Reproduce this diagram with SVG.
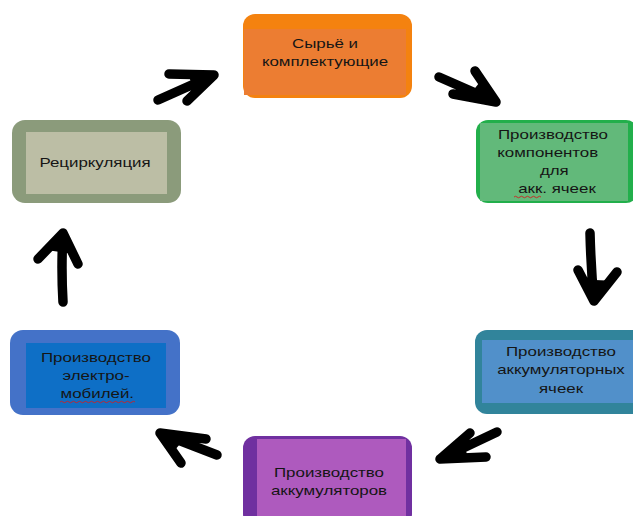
<svg xmlns="http://www.w3.org/2000/svg" width="633" height="516" viewBox="0 0 633 516">
<defs>
<style>
.t{font-family:"Liberation Sans","Open Sans",Arial,sans-serif;font-size:12.8px;fill:#151515;text-anchor:middle}
.arr{fill:none;stroke:#000;stroke-width:9.5;stroke-linecap:round;stroke-linejoin:round}
.hd{fill:#000;stroke:#000;stroke-width:3;stroke-linejoin:round}
.sq{fill:none;stroke:#d02020;stroke-width:0.9}
</style>
</defs>
<rect width="633" height="516" fill="#fff"/>

<g id="node-raw">
<rect x="243" y="14" width="169" height="84" rx="12" fill="#F4820F"/>
<rect x="244" y="29" width="162" height="66" fill="#EC7D32"/>
<g transform="translate(325,0) scale(1.32,1)">
<text class="t" x="0" y="48">Сырьё и</text>
<text class="t" x="0" y="66">комплектующие</text>
</g>
</g>

<g id="node-components">
<rect x="476" y="120" width="162" height="83" rx="12" fill="#22AF4B"/>
<rect x="480" y="123" width="148" height="78" fill="#62B97A"/>
<rect x="480" y="123" width="20" height="78" rx="10" fill="#62B97A"/>
<g transform="translate(553,0) scale(1.32,1)">
<text class="t" x="0" y="139">Производство</text>
<text class="t" x="-4" y="157">компонентов</text>
<text class="t" x="1" y="175">для</text>
<text class="t" x="3" y="193">акк. ячеек</text>
</g>
<path class="sq" d="M514 197 q1.5 -1.5 3 0 t3 0 t3 0 t3 0 t3 0 t3 0 t3 0 t3 0 t3 0"/>
</g>

<g id="node-cells">
<rect x="475" y="330" width="170" height="84" rx="12" fill="#31849B"/>
<rect x="482" y="340" width="151" height="63" fill="#5190CA"/>
<g transform="translate(561,0) scale(1.32,1)">
<text class="t" x="0" y="356">Производство</text>
<text class="t" x="0" y="374">аккумуляторных</text>
<text class="t" x="0" y="393">ячеек</text>
</g>
</g>

<g id="node-batteries">
<rect x="243" y="436" width="169" height="90" rx="12" fill="#7030A0"/>
<rect x="257" y="439" width="149" height="77" fill="#AE5ABE"/>
<g transform="translate(329,0) scale(1.32,1)">
<text class="t" x="0" y="477">Производство</text>
<text class="t" x="0" y="495">аккумуляторов</text>
</g>
</g>

<g id="node-ev">
<rect x="10" y="330" width="170" height="85" rx="13" fill="#4472C8"/>
<rect x="26" y="343" width="140" height="65" fill="#0E6FC6"/>
<g transform="translate(96,0) scale(1.32,1)">
<text class="t" x="0" y="362">Производство</text>
<text class="t" x="0" y="380">электро-</text>
<text class="t" x="1" y="398">мобилей.</text>
</g>
<path class="sq" d="M60 402 q1.5 -1.5 3 0 t3 0 t3 0 t3 0 t3 0 t3 0 t3 0 t3 0 t3 0 t3 0 t3 0 t3 0 t3 0 t3 0 t3 0 t3 0 t3 0 t3 0 t3 0 t3 0 t3 0 t3 0 t3 0 t3 0 t3 0"/>
</g>

<g id="node-recycling">
<rect x="12" y="120" width="169" height="83" rx="13" fill="#8B9B7B"/>
<rect x="26" y="132" width="141" height="62" fill="#BCBEA5"/>
<g transform="translate(95,0) scale(1.32,1)">
<text class="t" x="0" y="167">Рециркуляция</text>
</g>
</g>

<g id="connectors">
<path class="arr" d="M158 100 L214 75 M169 74 L214 75 L187 101"/>
<polygon class="hd" points="214,75 190,75 197,94"/>
<path class="arr" d="M439 77 L496 102 M475 71 L496 102 L453 94"/>
<polygon class="hd" points="496,102 481,83 470,97"/>
<path class="arr" d="M590 233 Q591 270 594 301 M578 270 L594 301 L617 272"/>
<polygon class="hd" points="594,301 584,281 606,282"/>
<path class="arr" d="M497 432 L440 459 M470 433 L440 459 L486 457"/>
<polygon class="hd" points="440,459 462,445 467,458"/>
<path class="arr" d="M217 455 L160 433 M206 439 L160 433 L181 463"/>
<polygon class="hd" points="160,433 184,437 172,451"/>
<path class="arr" d="M63 302 Q61 268 63 233 M38 259 L63 233 L78 264"/>
<polygon class="hd" points="63,233 50,249 71,252"/>
</g>
</svg>
